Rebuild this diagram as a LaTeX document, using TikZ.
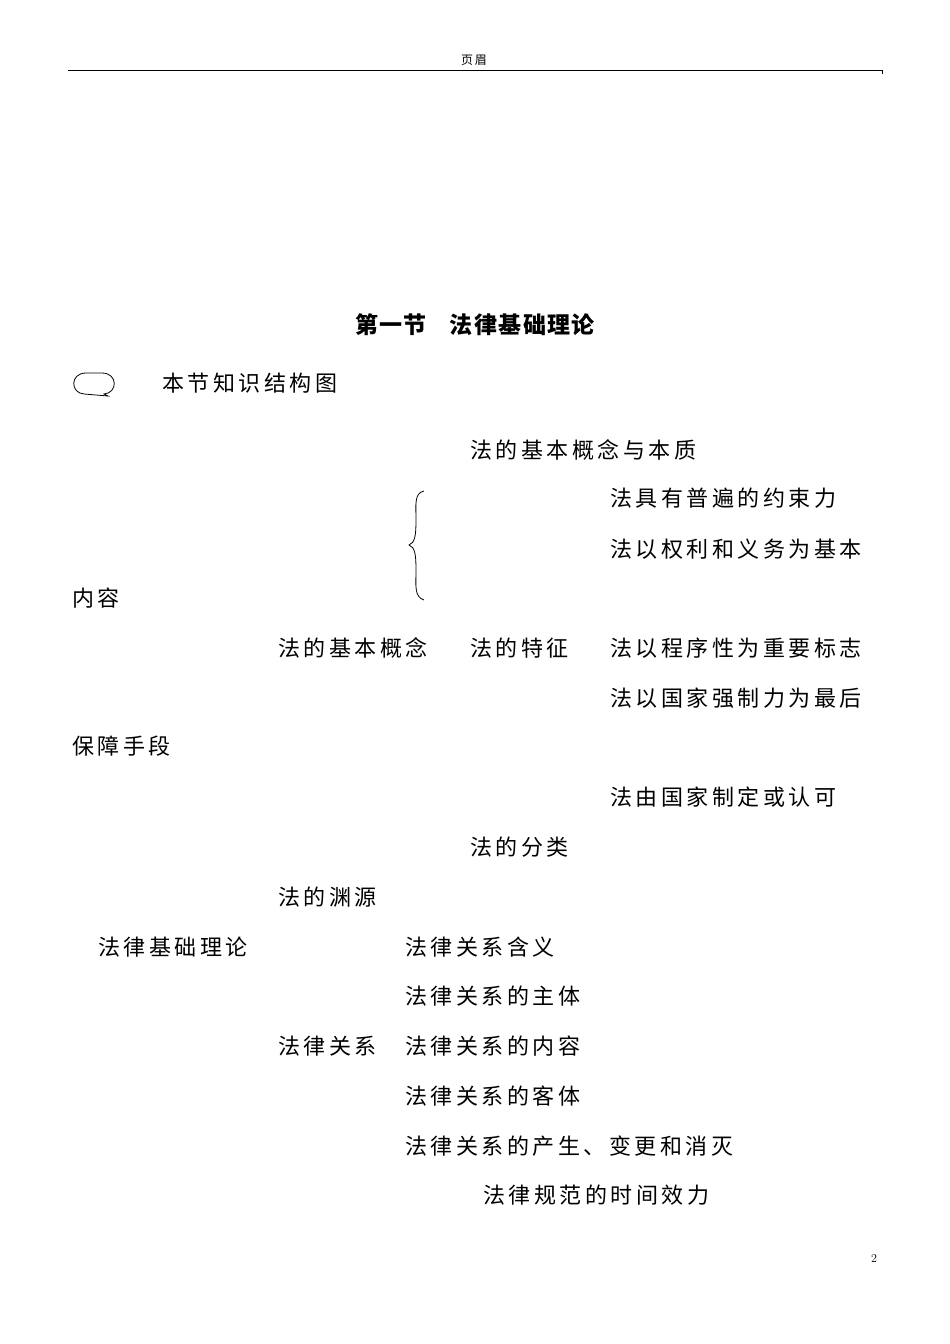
\documentclass[tikz,border=0pt]{standalone}
\usepackage{fontspec}
\newfontfamily\cjk[LetterSpace=16]{Noto Sans CJK SC}
\newfontfamily\cjkb[LetterSpace=6]{Noto Sans CJK SC}
\begin{document}
\begin{tikzpicture}[x=1pt,y=-1pt,
  t/.style={anchor=west,inner sep=0pt,font=\cjk\fontsize{22}{22}\selectfont}]
\useasboundingbox (0,0) rectangle (950,1344);
\node[inner sep=0pt,font=\cjk\fontsize{12}{12}\selectfont] (hdr) at (474,60) {页眉};
\draw[line width=0.8pt] (68,70) -- (882,70) -- (882,74);
\node[inner sep=0pt,font=\cjkb\bfseries\fontsize{23}{23}\selectfont] (title) at (475,325) {第一节\hspace{1em}法律基础理论};
\draw[line width=0.8pt] (84,394) .. controls (70,393) and (70,373) .. (86,373) -- (102,373) .. controls (118,373) and (118,393) .. (104,394) -- (108,396) -- (84,394);
\node[t] (a0) at (162,383) {本节知识结构图};
\node[t] (a1) at (470,450) {法的基本概念与本质};
\node[t] (a2) at (610,498) {法具有普遍的约束力};
\node[t] (a3) at (610,549) {法以权利和义务为基本};
\node[t] (a4) at (72,598) {内容};
\node[t] (a5) at (278,648) {法的基本概念};
\node[t] (a6) at (470,648) {法的特征};
\node[t] (a7) at (610,648) {法以程序性为重要标志};
\node[t] (a8) at (610,698) {法以国家强制力为最后};
\node[t] (a9) at (72,746) {保障手段};
\node[t] (a10) at (610,797) {法由国家制定或认可};
\node[t] (a11) at (470,847) {法的分类};
\node[t] (a12) at (278,897) {法的渊源};
\node[t] (a13) at (98,947) {法律基础理论};
\node[t] (a14) at (405,947) {法律关系含义};
\node[t] (a15) at (405,996) {法律关系的主体};
\node[t] (a16) at (278,1046) {法律关系};
\node[t] (a17) at (405,1046) {法律关系的内容};
\node[t] (a18) at (405,1096) {法律关系的客体};
\node[t] (a19) at (405,1146) {法律关系的产生、变更和消灭};
\node[t] (a20) at (483,1195) {法律规范的时间效力};
\draw[line width=0.8pt] (424,491) .. controls (414,493) and (416,505) .. (416,520) .. controls (416,535) and (415,543) .. (409,545) .. controls (415,547) and (416,555) .. (416,570) .. controls (416,585) and (414,597) .. (424,600);
\node[inner sep=0pt,font=\fontsize{12}{12}\selectfont] (pg) at (874,1258) {2};
\end{tikzpicture}
\end{document}
